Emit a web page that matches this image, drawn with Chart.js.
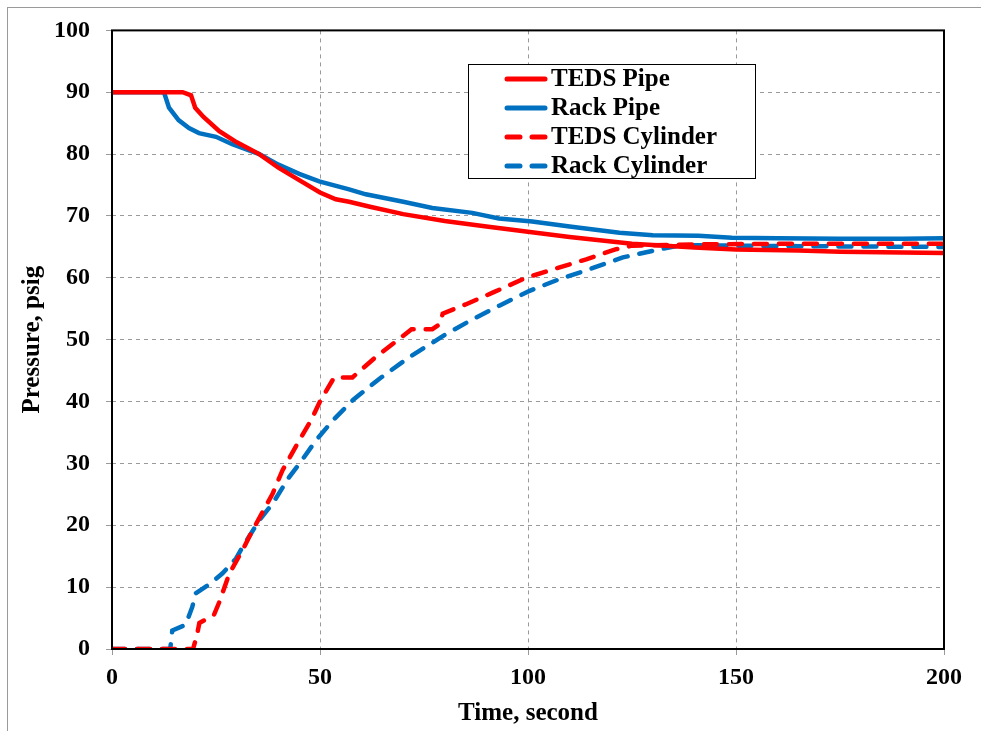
<!DOCTYPE html>
<html>
<head>
<meta charset="utf-8">
<script src="https://cdn.jsdelivr.net/npm/chart.js@4"></script>
<style>
  body { margin: 0; background: #fff; }
  canvas { display: block; }
</style>
</head>
<body>
<canvas id="myChart" width="981" height="731"></canvas>
<script>
// time (s) and pressure (psig)
const tedsPipeT = [0, 17, 19, 20, 22, 25.8, 30, 35.4, 40, 45, 50, 53.8, 57, 62, 70, 80, 90, 99.5, 110, 125, 140, 150, 165, 175, 190, 200]
const tedsPipeP = [90, 90, 89.5, 87.5, 86, 83.7, 81.9, 80, 77.8, 75.8, 73.8, 72.7, 72.3, 71.5, 70.3, 69.2, 68.3, 67.5, 66.6, 65.5, 64.9, 64.6, 64.4, 64.2, 64.1, 64]

const rackPipeT = [0, 12.5, 13.7, 16, 18.5, 20.9, 25, 28.9, 35.4, 40, 45, 49.8, 57, 61, 70, 77, 86.6, 93, 101, 110, 122, 130, 141, 149, 160, 175, 190, 200]
const rackPipeP = [90, 90, 87.5, 85.5, 84.2, 83.4, 82.8, 81.6, 80, 78.3, 76.8, 75.6, 74.3, 73.5, 72.3, 71.3, 70.5, 69.6, 69.1, 68.3, 67.3, 66.9, 66.8, 66.5, 66.4, 66.3, 66.3, 66.4]

const tedsCylT = [0, 19.5, 20.5, 21, 24.5, 25.8, 28.2, 31.4, 33.8, 38.6, 41, 45, 47.8, 50, 53.4, 57.8, 63.4, 69, 72, 77, 78.8, 79.5, 85, 91.5, 99.5, 107.6, 114, 121, 125, 140, 160, 180, 200]
const tedsCylP = [0, 0, 2.5, 4.2, 5.5, 7.6, 12.2, 16, 19.2, 25.1, 28.9, 33.7, 36.9, 40, 43.9, 43.9, 47.2, 50.1, 51.7, 51.7, 52.5, 54.2, 55.7, 57.6, 60, 61.7, 63, 64.6, 65.2, 65.4, 65.5, 65.5, 65.5]

const rackCylT = [0, 14, 14.5, 17.7, 19.3, 20.1, 23.7, 26.5, 29.8, 31.4, 35.4, 38.6, 42.6, 45, 49, 53, 58, 64.3, 71.5, 80.3, 86.7, 93.1, 100.4, 107.6, 114.8, 122.8, 131.6, 137, 150, 170, 200]
const rackCylP = [0, 0, 3, 3.9, 6.8, 9, 10.6, 12.2, 14.6, 16.5, 20.8, 23.5, 27.8, 29.9, 33.7, 36.9, 40.3, 43.7, 47.2, 50.9, 53.3, 55.5, 57.9, 59.8, 61.4, 63.3, 64.6, 65.3, 65.2, 65.1, 65]

const toPoints = (xs, ys) => xs.map((x, i) => ({ x: x, y: ys[i] }))

const RED = '#FF0000'
const BLUE = '#0070C0'
const FONT = '"Liberation Serif", "Times New Roman", serif'

// outer frame + plot border
const framePlugin = {
  id: 'frame',
  beforeDraw(chart) {
    const c = chart.ctx
    c.save()
    c.fillStyle = '#fff'
    c.fillRect(0, 0, chart.width, chart.height)
    c.strokeStyle = '#9a9a9a'
    c.lineWidth = 1
    c.strokeRect(7.5, 7.5, chart.width + 10, chart.height + 10)
    c.restore()
  },
  afterDatasetsDraw(chart) {
    const a = chart.chartArea
    const c = chart.ctx
    c.save()
    c.strokeStyle = '#000'
    c.lineWidth = 2
    c.strokeRect(a.left, a.top, a.right - a.left, a.bottom - a.top)
    c.restore()
  }
}

// legend box drawn inside the plot
const boxLegend = {
  id: 'boxLegend',
  afterDraw(chart) {
    const c = chart.ctx
    const x = 468, y = 64, w = 287, h = 114
    c.save()
    c.fillStyle = '#fff'
    c.fillRect(x, y, w, h)
    c.strokeStyle = '#000'
    c.lineWidth = 1
    c.strokeRect(x + 0.5, y + 0.5, w, h)
    c.font = 'bold 25px ' + FONT
    c.textBaseline = 'middle'
    chart.data.datasets.forEach((ds, i) => {
      const ly = y + 15 + i * 29
      c.beginPath()
      c.strokeStyle = ds.borderColor
      c.lineWidth = 5
      c.lineCap = 'round'
      c.setLineDash(ds.borderDash || [])
      c.moveTo(507, ly)
      c.lineTo(545, ly)
      c.stroke()
      c.setLineDash([])
      c.fillStyle = '#000'
      c.fillText(ds.label, 551, ly + 1)
    })
    c.restore()
  }
}

const ctx = document.getElementById('myChart')
new Chart(ctx, {
  type: 'line',
  data: {
    datasets: [
      {
        label: 'TEDS Pipe',
        data: toPoints(tedsPipeT, tedsPipeP),
        borderColor: RED,
        borderWidth: 4.5
      },
      {
        label: 'Rack Pipe',
        data: toPoints(rackPipeT, rackPipeP),
        borderColor: BLUE,
        borderWidth: 4.5
      },
      {
        label: 'TEDS Cylinder',
        data: toPoints(tedsCylT, tedsCylP),
        borderColor: RED,
        borderWidth: 4.5,
        borderDash: [13, 12],
        borderCapStyle: 'round'
      },
      {
        label: 'Rack Cylinder',
        data: toPoints(rackCylT, rackCylP),
        borderColor: BLUE,
        borderWidth: 4.5,
        borderDash: [13, 12],
        borderCapStyle: 'round'
      }
    ]
  },
  options: {
    responsive: false,
    animation: false,
    elements: { point: { radius: 0 }, line: { tension: 0 } },
    layout: { padding: { top: 29, right: 37, left: 0, bottom: 0 } },
    plugins: { legend: { display: false }, tooltip: { enabled: false } },
    scales: {
      x: {
        type: 'linear',
        min: 0,
        max: 200,
        ticks: { stepSize: 50, color: '#000', padding: 8, font: { family: FONT, size: 24, weight: 'bold' } },
        grid: { color: '#9a9a9a', tickLength: 6, tickColor: '#9a9a9a' },
        border: { display: false, dash: [4, 4] },
        title: { display: true, text: 'Time, second', color: '#000', padding: { top: 0, bottom: 2 }, font: { family: FONT, size: 25, weight: 'bold' } },
        afterFit(scale) { scale.height = 82 }
      },
      y: {
        min: 0,
        max: 100,
        ticks: { stepSize: 10, color: '#000', padding: 16, font: { family: FONT, size: 24, weight: 'bold' } },
        grid: { color: '#9a9a9a', tickLength: 6, tickColor: '#9a9a9a' },
        border: { display: false, dash: [4, 4] },
        title: { display: true, text: 'Pressure, psig', color: '#000', padding: { top: 18, bottom: 0 }, font: { family: FONT, size: 25, weight: 'bold' } },
        afterFit(scale) { scale.width = 112 }
      }
    }
  },
  plugins: [framePlugin, boxLegend]
})
</script>
</body>
</html>
